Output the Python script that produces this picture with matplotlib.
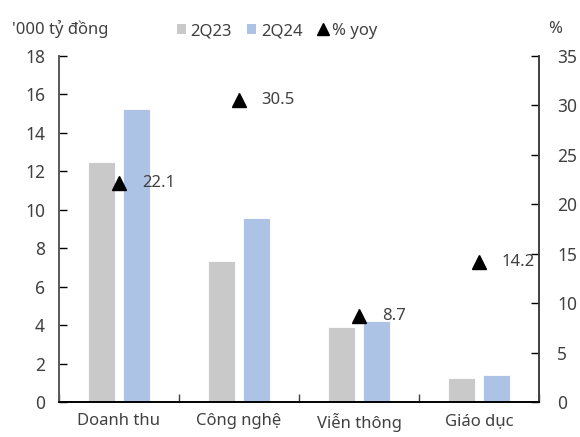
import matplotlib
matplotlib.use("Agg")
import matplotlib.pyplot as plt
import numpy as np
from matplotlib.lines import Line2D
from matplotlib.patches import Patch

plt.rcParams['font.family'] = ['Noto Sans', 'DejaVu Sans']

categories = ["Doanh thu", "Công nghệ", "Viễn thông", "Giáo dục"]
q2_23 = [12.46, 7.35, 3.89, 1.25]
q2_24 = [15.22, 9.58, 4.23, 1.42]
yoy = [22.1, 30.5, 8.7, 14.2]
left_ticks = list(range(0, 19, 2))
right_ticks = list(range(0, 36, 5))

grey = "#C9C9C9"
blue = "#ADC3E6"
txt = "#404040"

fig = plt.figure(figsize=(5.8, 4.37), dpi=100)
ax = fig.add_axes([0.1017, 0.0794, 0.8276, 0.7931])
ax2 = ax.twinx()

x = np.arange(len(categories))
w = 0.222
off = 0.144
ax.bar(x - off, q2_23, width=w, color=grey, edgecolor="white", linewidth=0.6, zorder=2)
ax.bar(x + off, q2_24, width=w, color=blue, edgecolor="white", linewidth=0.6, zorder=2)

ax2.plot(x, yoy, linestyle="none", marker="^", markersize=10, color="black", zorder=3)
for xi, v in zip(x, yoy):
    ax2.text(xi + 0.19, v, f"{v:.1f}", ha="left", va="center", fontsize=12, color=txt)

ax.set_xlim(-0.5, len(categories) - 0.5)
ax.set_ylim(0, 18)
ax2.set_ylim(0, 35)
ax.set_yticks(left_ticks)
ax2.set_yticks(right_ticks)
ax.set_xticks(x)
ax.set_xticklabels(categories)
ax.set_xticks(np.arange(-0.5, len(categories)), minor=True)

ax.tick_params(axis="y", direction="in", length=6, width=1, colors="black",
               labelcolor=txt, labelsize=12.5, pad=10)
ax2.tick_params(axis="y", direction="in", length=6, width=1, colors="black",
                labelcolor=txt, labelsize=12.5, pad=13)
ax.tick_params(axis="x", which="major", length=0, labelcolor=txt, labelsize=12, pad=8)
ax.tick_params(axis="x", which="minor", direction="in", length=6, width=1, colors="#404040")

for a in (ax, ax2):
    a.spines["top"].set_visible(False)
    a.spines["left"].set_color("#595959")
    a.spines["right"].set_color("#404040")
    a.spines["bottom"].set_color("black")
    a.spines["left"].set_linewidth(1.2)
    a.spines["right"].set_linewidth(1.2)
    a.spines["bottom"].set_linewidth(1.2)

fig.text(12 / 580, 1 - 29 / 437, "'000 tỷ đồng", ha="left", va="center", fontsize=12, color=txt)
fig.text(562 / 580, 1 - 29 / 437, "%", ha="right", va="center", fontsize=12, color=txt)

handles = [
    Patch(facecolor=grey, edgecolor="none"),
    Patch(facecolor=blue, edgecolor="none"),
    Line2D([], [], linestyle="none", marker="^", color="black", markersize=9),
]
fig.legend(handles, ["2Q23", "2Q24", "% yoy"], loc="center", bbox_to_anchor=(277 / 580, 1 - 31 / 437),
           ncol=3, frameon=False, fontsize=12, labelcolor=txt, handlelength=0.55, handleheight=0.6,
           handletextpad=0.3, columnspacing=0.9)

fig.savefig("out.png", dpi=100)
